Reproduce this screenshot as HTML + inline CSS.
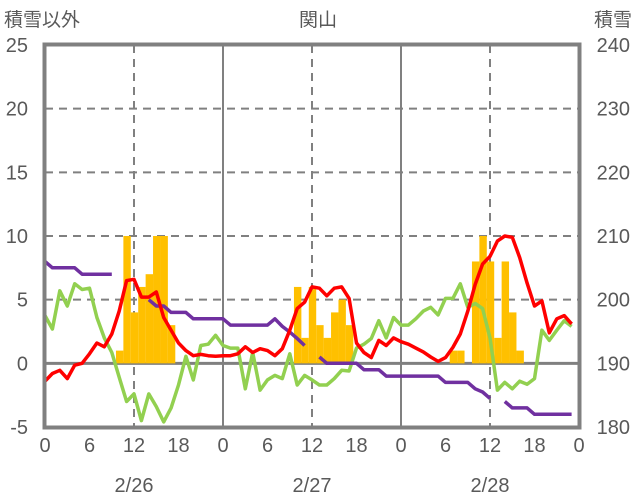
<!DOCTYPE html>
<html><head><meta charset="utf-8">
<style>
html,body{margin:0;padding:0;background:#fff;}
svg{display:block;font-family:"Liberation Sans","Noto Sans CJK JP",sans-serif;}
</style></head>
<body>
<svg id="chart" width="636" height="501" viewBox="0 0 636 501" xmlns="http://www.w3.org/2000/svg">
<text x="4" y="26" font-size="19" fill="#595959">積雪以外</text>
<text x="318" y="26" font-size="19" fill="#595959" text-anchor="middle">関山</text>
<text x="632" y="26" font-size="19" fill="#595959" text-anchor="end">積雪</text>
<g id="grid"></g>
<g id="bars"></g>
<g id="lines"></g>
<g id="axes"></g>
</svg>
<script>
const hours = Array.from({length:72},(_,i)=>i);
const snowfall = [0,0,0,0,0,0,0,0,0,0,1,10,4,6,7,10,10,3,0,0,0,0,0,0,
0,0,0,0,0,0,0,0,0,0,6,2,6,3,2,4,5,3,0,0,0,0,0,0,
0,0,0,0,0,0,0,1,1,0,8,10,8,2,8,4,1,0,0,0,0,0,0,0];
const temperature = [-1.4,-0.8,-0.55,-1.2,-0.15,0,0.75,1.6,1.3,2.3,4.1,6.5,6.6,5.2,5.2,5.6,3.6,2.6,1.6,1.0,0.6,0.7,0.6,0.55,
0.6,0.6,0.75,1.3,0.85,1.15,1.0,0.6,1.15,2.6,4.3,4.8,6.0,5.9,5.3,5.9,6.0,5.1,1.6,0.85,0.45,1.8,1.4,2.0,
1.7,1.5,1.2,0.9,0.5,0.15,0.45,1.25,2.3,4.1,6.2,7.8,8.4,9.6,10.0,9.9,8.3,6.3,4.5,4.9,2.4,3.5,3.75,3.1];
const other = [3.75,2.7,5.7,4.5,6.25,5.8,5.9,3.6,2.0,0.85,-1.1,-3.0,-2.4,-4.5,-2.4,-3.4,-4.6,-3.5,-1.7,0.55,-1.3,1.4,1.5,2.2,
1.4,1.2,1.2,-2.0,0.85,-2.1,-1.3,-0.95,-1.2,0.75,-1.7,-0.95,-1.3,-1.7,-1.7,-1.2,-0.55,-0.6,1.2,1.5,1.95,3.35,2.0,3.6,
3.0,3.0,3.5,4.1,4.4,3.8,5.1,5.1,6.25,4.4,4.7,4.3,2.0,-2.1,-1.5,-2.0,-1.4,-1.65,-1.2,2.6,1.8,2.6,3.35,2.9];
const snowDepth = [206,205,205,205,205,204,204,204,204,204,null,null,null,null,200,199,199,198,198,198,197,197,197,197,
197,196,196,196,196,196,196,197,195.8,194.9,193.9,192.8,null,191,190,190,190,190,190,189,189,189,188,188,
188,188,188,188,188,188,187,187,187,187,186,185.5,184.5,null,184,183,183,183,182,182,182,182,182,182];
const leftTicks = [25,20,15,10,5,0,-5];
const rightTicks = [240,230,220,210,200,190,180];
const xTickLabels = ["0","6","12","18","0","6","12","18","0","6","12","18","0"];
const dateLabels = ["2/26","2/27","2/28"];

const X0=45, X1=579, YT=45, YB=427;
const xs = h => X0 + h*(X1-X0)/72;
const yL = v => YB - (v+5)*(YB-YT)/30;
const yR = v => YB - (v-180)*(YB-YT)/60;
const NS="http://www.w3.org/2000/svg";
function mk(tag, attrs, parent){const e=document.createElementNS(NS,tag);for(const k in attrs)e.setAttribute(k,attrs[k]);parent.appendChild(e);return e;}
const grid=document.getElementById('grid'), bars=document.getElementById('bars'), lines=document.getElementById('lines'), axes=document.getElementById('axes');

leftTicks.forEach((t,i)=>{
  const y=yL(t);
  if(t>-5 && t<25){
    const l=mk('line',{x1:X0,x2:X1,y1:y,y2:y,stroke:'#808080','stroke-width':t===0?3:2,'stroke-dasharray':t===0?'none':'8,6'},grid);
    
    
  }
  const tx=mk('text',{x:28,y:y+7,'font-size':20,fill:'#595959','text-anchor':'end'},axes);
  tx.textContent=t;
  
  
});
rightTicks.forEach(t=>{
  const tx=mk('text',{x:630,y:yR(t)+7,'font-size':20,fill:'#595959','text-anchor':'end'},axes);
  tx.textContent=t;
  
  
});
[12,24,36,48,60].forEach(h=>{
  const solid = h%24===0;
  const l=mk('line',{x1:xs(h),x2:xs(h),y1:YT,y2:YB,stroke:'#808080','stroke-width':2,'stroke-dasharray':solid?'none':'8,6'},grid);
  
  
});
xTickLabels.forEach((s,i)=>{
  const tx=mk('text',{x:xs(i*6),y:452,'font-size':20,fill:'#595959','text-anchor':'middle'},axes);
  tx.textContent=s;
  
  
});
dateLabels.forEach((s,i)=>{
  const tx=mk('text',{x:xs(12+24*i),y:492,'font-size':20,fill:'#595959','text-anchor':'middle'},axes);
  tx.textContent=s;
  
  
});
const bw=(X1-X0)/72;
snowfall.forEach((v,i)=>{
  if(!v) return;
  const r=mk('rect',{x:xs(hours[i])-bw/2+0.5,y:yL(v),width:bw,height:yL(0)-yL(v),fill:'#FFC000'},bars);
  
  
});
function drawLine(arr, yf, color, name){
  let d='', pen=false;
  arr.forEach((v,i)=>{
    if(v===null){pen=false;return;}
    d+=(pen?'L':'M')+xs(hours[i]).toFixed(1)+' '+yf(v).toFixed(1)+' ';
    pen=true;
  });
  const p=mk('path',{d:d,fill:'none',stroke:color,'stroke-width':3.5,'stroke-linejoin':'round'},lines);
  
  
}
drawLine(other, yL, '#92D050', 'other-series-line');
drawLine(snowDepth, yR, '#7030A0', 'snow-depth-line');
drawLine(temperature, yL, '#FF0000', 'temperature-line');
const b=mk('rect',{x:X0-0.5,y:YT-0.5,width:X1-X0+1,height:YB-YT+1,fill:'none',stroke:'#808080','stroke-width':4},axes);


</script>
</body></html>
